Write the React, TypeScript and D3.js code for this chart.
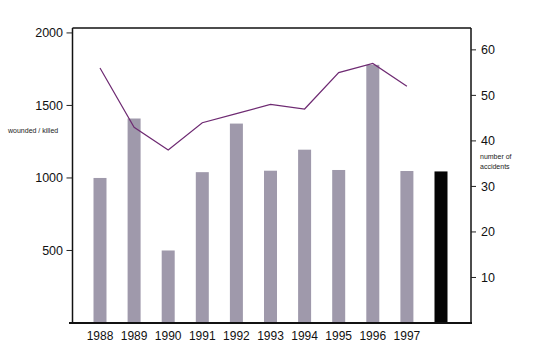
import React from "react";
import * as d3 from "d3";

const categories = ["1988", "1989", "1990", "1991", "1992", "1993", "1994", "1995", "1996", "1997", ""];
const woundedKilled = [1000, 1410, 500, 1040, 1375, 1050, 1195, 1055, 1780, 1048, 1045];
const lineYears = ["1988", "1989", "1990", "1991", "1992", "1993", "1994", "1995", "1996", "1997"];
const accidents = [56, 43, 38, 44, 46, 48, 47, 55, 57, 52];
const leftTicks = [500, 1000, 1500, 2000];
const rightTicks = [10, 20, 30, 40, 50, 60];

const W = 534, H = 356;
const plotLeft = 72.5, plotRight = 471, plotTop = 28, plotBottom = 323;

export default function App() {
  const x = d3.scalePoint<string>().domain(categories).range([100, 441]);
  const yL = d3.scaleLinear().domain([0, 2034]).range([plotBottom, plotTop]);
  const yR = d3.scaleLinear().domain([0, 64.8]).range([plotBottom, plotTop]);
  const barW = 13;
  const line = d3.line<number>()
    .x((_, i) => x(lineYears[i]) as number)
    .y((d) => yR(d));
  const font = "'Liberation Sans', Arial, sans-serif";
  return (
    <svg width={W} height={H} style={{ position: "absolute", left: 0, top: 0, background: "#fff" }}
      fontFamily={font}>
      <rect x={0} y={0} width={W} height={H} fill="#fff" />
      {woundedKilled.map((v, i) => (
        <rect key={i} x={(x(categories[i]) as number) - barW / 2} y={yL(v)} width={barW}
          height={plotBottom - yL(v)} fill={i === categories.length - 1 ? "#050505" : "#9f99ab"} />
      ))}
      <path d={line(accidents) || ""} fill="none" stroke="#6e2a72" strokeWidth={1.2} />
      {/* frame */}
      <line x1={plotLeft} x2={plotRight} y1={plotTop} y2={plotTop} stroke="#111" strokeWidth={1.5} />
      <line x1={plotLeft} x2={plotLeft} y1={plotTop} y2={plotBottom + 1} stroke="#111" strokeWidth={1.5} />
      <line x1={plotRight} x2={plotRight} y1={plotTop} y2={plotBottom + 1} stroke="#111" strokeWidth={1.5} />
      <line x1={69} x2={plotRight + 1} y1={plotBottom} y2={plotBottom} stroke="#111" strokeWidth={2} />
      {leftTicks.map((t) => (
        <g key={t}>
          <line x1={plotLeft - 6} x2={plotLeft} y1={yL(t)} y2={yL(t)} stroke="#222" strokeWidth={1} />
          <text x={63} y={yL(t) + 4.5} textAnchor="end" fontSize={12.5} fill="#111">{t}</text>
        </g>
      ))}
      {rightTicks.map((t) => (
        <g key={t}>
          <line x1={plotRight} x2={plotRight + 5} y1={yR(t)} y2={yR(t)} stroke="#222" strokeWidth={1} />
          <text x={481} y={yR(t) + 4.5} textAnchor="start" fontSize={12.5} fill="#111">{t}</text>
        </g>
      ))}
      {lineYears.map((c) => (
        <text key={c} x={x(c) as number} y={340} textAnchor="middle" fontSize={12} fill="#111">{c}</text>
      ))}
      <text x={8} y={133} fontSize={7} fill="#222">wounded / killed</text>
      <text x={480} y={159} fontSize={7} fill="#222">number of</text>
      <text x={480} y={169} fontSize={7} fill="#222">accidents</text>
    </svg>
  );
}
